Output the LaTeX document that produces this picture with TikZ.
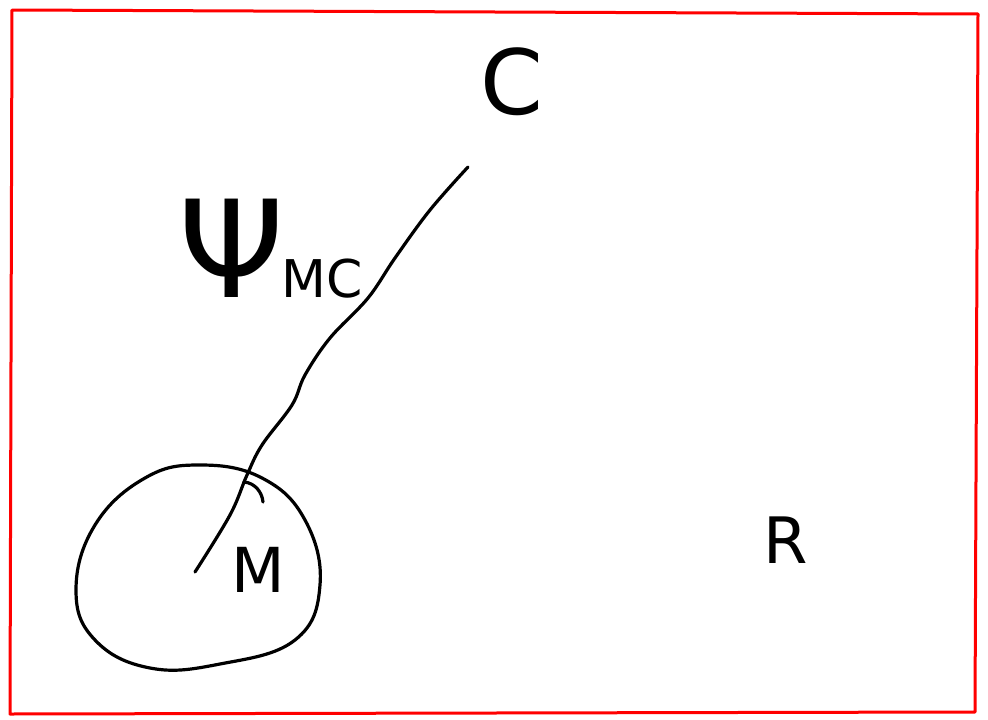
\documentclass[tikz,border=0pt]{standalone}
\usepackage{fontspec}
\setmainfont{DejaVu Sans}
\begin{document}
\begin{tikzpicture}[x=1pt,y=-1pt,
  ink/.style={line width=3.2pt,line cap=round,line join=round,black},
  frame/.style={line width=3pt,red,line join=round},
  lbl/.style={inner sep=0pt,anchor=center}]
\useasboundingbox[fill=white] (0,0) rectangle (988,720);
% red frame
\draw[frame] (12,10) -- (978,14) -- (975,712) -- (10,714) -- cycle;
% labels
\node[lbl] (C) at (512,82) {\fontsize{90}{90}\selectfont C};
\node[inner sep=0pt,anchor=base west] (psi) at (178,297) {\fontsize{135}{135}\selectfont Ψ\kern-3pt\fontsize{52}{52}\selectfont MC};
\node[lbl] (M) at (258,570) {\fontsize{62}{62}\selectfont M};
\node[lbl] (R) at (786,540) {\fontsize{64}{64}\selectfont R};
% blob around M
\draw[ink] plot[smooth cycle,tension=0.7] coordinates
  {(200,465) (262,478) (305,520) (320,585) (295,640) (220,664) (150,668) (95,640) (76,590) (95,525) (145,478)};
% connector from C down to M
\coordinate (top) at (468,167);
\coordinate (bot) at (195,572);
\draw[ink] plot[smooth,tension=0.6] coordinates
  {(top) (430,210) (395,258) (368,298) (330,338) (305,375) (292,405) (262,445) (247,475) (230,515) (bot)};
\draw[ink] (244,482) .. controls (255,483) and (262,492) .. (263,502);
\end{tikzpicture}
\end{document}
